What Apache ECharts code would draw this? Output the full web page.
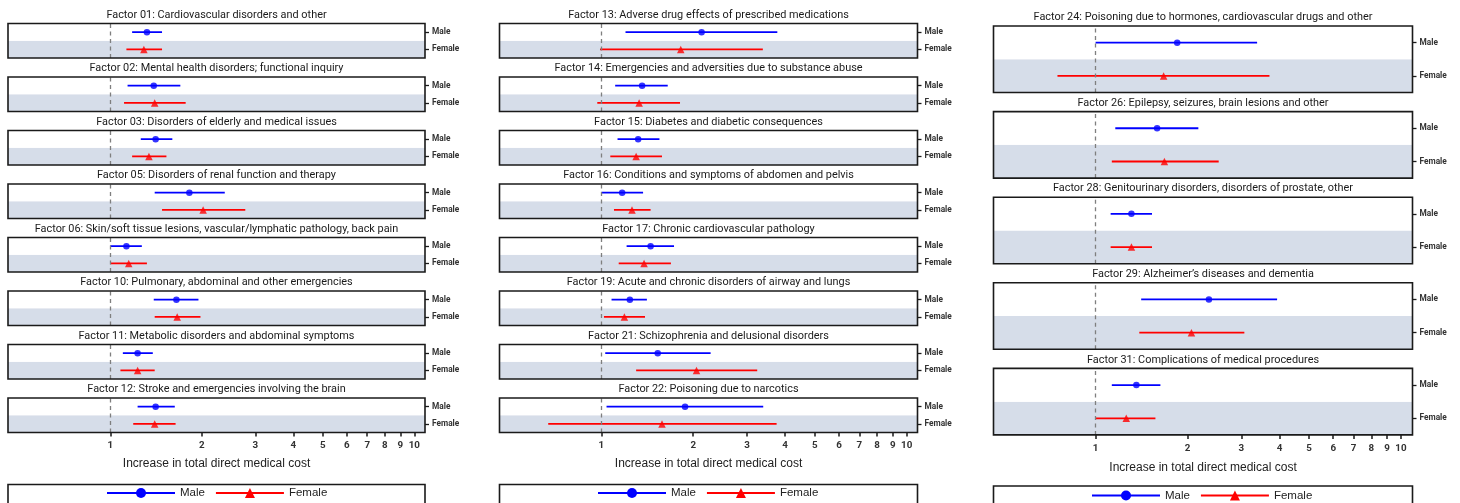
<!DOCTYPE html>
<html><head><meta charset="utf-8">
<script src="https://cdn.jsdelivr.net/npm/echarts@6/dist/echarts.min.js"></script>
<style>html,body{margin:0;padding:0;background:#fff}#c{width:1460px;height:503px}</style>
</head><body><div id="c"></div>
<script>
// ---------- data ----------
const titles = [
  'Factor 01: Cardiovascular disorders and other',
  'Factor 02: Mental health disorders; functional inquiry',
  'Factor 03: Disorders of elderly and medical issues',
  'Factor 05: Disorders of renal function and therapy',
  'Factor 06: Skin/soft tissue lesions, vascular/lymphatic pathology, back pain',
  'Factor 10: Pulmonary, abdominal and other emergencies',
  'Factor 11: Metabolic disorders and abdominal symptoms',
  'Factor 12: Stroke and emergencies involving the brain',
  'Factor 13: Adverse drug effects of prescribed medications',
  'Factor 14: Emergencies and adversities due to substance abuse',
  'Factor 15: Diabetes and diabetic consequences',
  'Factor 16: Conditions and symptoms of abdomen and pelvis',
  'Factor 17: Chronic cardiovascular pathology',
  'Factor 19: Acute and chronic disorders of airway and lungs',
  'Factor 21: Schizophrenia and delusional disorders',
  'Factor 22: Poisoning due to narcotics',
  'Factor 24: Poisoning due to hormones, cardiovascular drugs and other',
  'Factor 26: Epilepsy, seizures, brain lesions and other',
  'Factor 28: Genitourinary disorders, disorders of prostate, other',
  'Factor 29: Alzheimer\u2019s diseases and dementia',
  'Factor 31: Complications of medical procedures'
];
const column = [0,0,0,0,0,0,0,0, 1,1,1,1,1,1,1,1, 2,2,2,2,2];
const sexes = ['Female', 'Male'];
const maleEst    = [1.32,1.39,1.41,1.82,1.13,1.65,1.23,1.41, 2.13,1.36,1.32,1.17,1.45,1.24,1.53,1.88, 1.85,1.59,1.31,2.35,1.36];
const maleLow    = [1.18,1.14,1.26,1.40,1.00,1.39,1.10,1.23, 1.20,1.11,1.13,1.00,1.21,1.08,1.03,1.04, 1.00,1.16,1.12,1.41,1.13];
const maleHigh   = [1.48,1.70,1.60,2.38,1.27,1.95,1.38,1.63, 3.77,1.65,1.55,1.37,1.73,1.41,2.28,3.39, 3.38,2.17,1.53,3.93,1.63];
const femaleEst  = [1.29,1.40,1.34,2.02,1.15,1.66,1.23,1.40, 1.82,1.33,1.30,1.26,1.38,1.19,2.05,1.58, 1.67,1.68,1.31,2.06,1.26];
const femaleLow  = [1.13,1.11,1.18,1.48,1.00,1.40,1.08,1.19, 0.99,0.97,1.07,1.10,1.14,1.02,1.30,0.67, 0.75,1.13,1.12,1.39,1.00];
const femaleHigh = [1.48,1.77,1.53,2.78,1.32,1.98,1.40,1.64, 3.38,1.81,1.58,1.45,1.69,1.39,3.24,3.75, 3.71,2.53,1.53,3.07,1.57];
const tickValues = [1,2,3,4,5,6,7,8,9,10];
const referenceValue = 1;
const axisTitle = 'Increase in total direct medical cost';

// ---------- layout ----------
const colLeft = [8, 499.5, 993.5], colWidth = [417, 418, 419];
const colRange = [[0.461, 10.84], [0.464, 10.85], [0.463, 10.91]];
const colTop = [23.5, 23.5, 26], colPitch = [53.5, 53.5, 85.6], colHeight = [34.5, 34.5, 66.5];
const labelMargin = [8.5, 8.5, 9], nameGapCol = [25.5, 25.5, 26.5];
const legendLeft = [106, 597, 1091], legendTop = [487, 487, 489.5], legendBoxTop = [484.5, 484.5, 486];
const BLUE = '#0000ff', RED = '#ff0000', BAND = '#d6dde9', INK = '#1a1a1a';

const grids = [], xAxes = [], yAxes = [], series = [], graphics = [];
const rowCount = [0, 0, 0];
const lastRow = [0, 1, 2].map(c => column.filter(v => v === c).length - 1);

titles.forEach((t, i) => {
  const c = column[i], r = rowCount[c]++;
  const top = colTop[c] + r * colPitch[c];
  const isLast = r === lastRow[c];
  grids.push({left: colLeft[c], width: colWidth[c], top: top, height: colHeight[c],
    show: true, borderColor: INK, borderWidth: 1.6, backgroundColor: 'transparent', z: 10, containLabel: false});
  xAxes.push({type: 'log', logBase: 10, gridIndex: i, min: colRange[c][0], max: colRange[c][1],
    axisLine: {show: false}, splitLine: {show: false},
    axisTick: {show: isLast, customValues: tickValues, length: 4, inside: false, lineStyle: {color: INK, width: 1.5}},
    axisLabel: {show: isLast, customValues: tickValues, margin: labelMargin[c], fontSize: 9.8, fontWeight: 'bold',
      fontFamily: 'Roboto, sans-serif', color: '#333', formatter: v => String(Math.round(v))},
    name: isLast ? axisTitle : '', nameLocation: 'middle', nameGap: nameGapCol[c],
    nameTextStyle: {fontSize: 12, fontFamily: '"Liberation Sans", Arial, sans-serif', color: '#222'}});
  yAxes.push({type: 'category', gridIndex: i, data: sexes, position: 'right',
    axisLine: {show: false},
    axisTick: {show: true, alignWithLabel: true, length: 4, lineStyle: {color: INK, width: 1.3}},
    axisLabel: {margin: 7, fontSize: 8.3, fontWeight: 'bold', fontFamily: 'Roboto, sans-serif', color: '#333'},
    splitLine: {show: false},
    splitArea: {show: true, areaStyle: {color: [BAND, '#ffffff']}}});
  graphics.push({type: 'text', x: colLeft[c] + colWidth[c] / 2, y: top - 8.5, z: 20,
    style: {text: t, textAlign: 'center', textVerticalAlign: 'middle', fill: '#1a1a1a',
      font: '10.9px Roboto, sans-serif'}});
});

titles.forEach((t, i) => {
  series.push({name: 'Male', type: 'line', xAxisIndex: i, yAxisIndex: i, color: BLUE,
    symbol: 'circle', showSymbol: false, silent: true, z: 2,
    lineStyle: {width: 1.8, color: BLUE},
    data: [[maleLow[i], 'Male'], [maleHigh[i], 'Male']]});
  series.push({name: 'Female', type: 'line', xAxisIndex: i, yAxisIndex: i, color: RED,
    symbol: 'triangle', showSymbol: false, silent: true, z: 2,
    lineStyle: {width: 1.8, color: RED},
    data: [[femaleLow[i], 'Female'], [femaleHigh[i], 'Female']]});
});
titles.forEach((t, i) => {
  series.push({name: 'Male', type: 'scatter', xAxisIndex: i, yAxisIndex: i, color: BLUE,
    symbol: 'circle', symbolSize: 6.5, silent: true, z: 3,
    data: [[maleEst[i], 'Male']],
    markLine: {silent: true, symbol: ['none', 'none'], label: {show: false}, animation: false,
      lineStyle: {type: [4, 3.5], color: '#7f7f7f', width: 1.3},
      data: [{xAxis: referenceValue}]}});
  series.push({name: 'Female', type: 'scatter', xAxisIndex: i, yAxisIndex: i, color: RED,
    symbol: 'triangle', symbolSize: 7.5, silent: true, z: 3,
    data: [[femaleEst[i], 'Female']]});
});

const legends = [0, 1, 2].map(c => ({data: ['Male', 'Female'], left: legendLeft[c], top: legendTop[c],
  orient: 'horizontal', padding: 0, itemWidth: 68, itemHeight: 12.5, itemGap: 10, selectedMode: false,
  textStyle: {fontSize: 11.5, fontFamily: '"Liberation Sans", Arial, sans-serif', color: '#222'}}));
[0, 1, 2].forEach(c => graphics.push({type: 'rect', z: 20,
  shape: {x: colLeft[c], y: legendBoxTop[c], width: colWidth[c], height: 30},
  style: {fill: 'none', stroke: INK, lineWidth: 1.6}}));

const chart = echarts.init(document.getElementById('c'));
chart.setOption({animation: false, backgroundColor: '#fff', grid: grids, xAxis: xAxes, yAxis: yAxes,
  series: series, legend: legends, graphic: graphics});
</script></body></html>
